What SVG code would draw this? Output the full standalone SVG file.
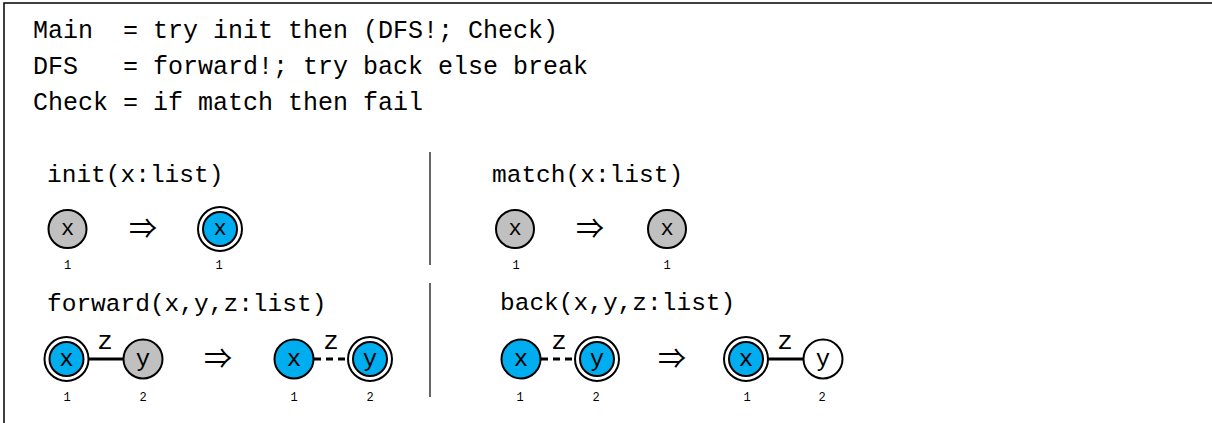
<svg xmlns="http://www.w3.org/2000/svg" width="1212" height="423" viewBox="0 0 1212 423">
<style>
.code{font-family:"Liberation Mono",monospace;font-size:25px;fill:#000}
.lbl{font-family:"Liberation Mono",monospace;font-size:24.5px;fill:#000}
.nt{font-family:"Liberation Mono",monospace;font-size:22px;fill:#000;text-anchor:middle}
.nt2{font-family:"Liberation Mono",monospace;font-size:24px;fill:#000;text-anchor:middle}
.num{font-family:"Liberation Mono",monospace;font-size:12px;fill:#000;text-anchor:middle}
.el{font-family:"Liberation Mono",monospace;font-size:26px;fill:#000;text-anchor:middle}
.arr{font-family:"Noto Sans CJK JP","DejaVu Sans",sans-serif;font-size:28px;fill:#000;text-anchor:middle}
.n{stroke:#000;stroke-width:2}
.gray{fill:#C0C0C0}
.blue{fill:#00AEEF}
.white{fill:#FFFFFF}
.e{stroke:#000;stroke-width:3;fill:none}
.dash{stroke-dasharray:7 5}
.frame{stroke:#000;stroke-width:1.5;fill:none}
.div{stroke:#000;stroke-width:1.2}
</style>
<rect width="1212" height="423" fill="#fff"/>
<g id="frame">
<path class="frame" d="M4,423 V3 H1212"/>
<line class="div" x1="430" y1="152" x2="430" y2="265"/>
<line class="div" x1="430" y1="283" x2="430" y2="397"/>
</g>
<g id="program">
<text class="code" x="33" y="38" xml:space="preserve">Main  = try init then (DFS!; Check)</text>
<text class="code" x="33" y="74" xml:space="preserve">DFS   = forward!; try back else break</text>
<text class="code" x="33" y="110" xml:space="preserve">Check = if match then fail</text>
</g>
<g id="rule-labels">
<text class="lbl" x="47" y="182">init(x:list)</text>
<text class="lbl" x="492" y="182">match(x:list)</text>
<text class="lbl" x="47" y="311">forward(x,y,z:list)</text>
<text class="lbl" x="500" y="310">back(x,y,z:list)</text>
</g>
<g id="arrows">
<text class="arr" x="143" y="239">⇒</text>
<text class="arr" x="590" y="239">⇒</text>
<text class="arr" x="218" y="369">⇒</text>
<text class="arr" x="672" y="369">⇒</text>
</g>
<g id="connectors">
<line id="e-fwd-l" class="e" x1="88" y1="359" x2="124" y2="359"/>
<text class="el" x="105" y="349">z</text>
<line id="e-fwd-r" class="e dash" x1="314" y1="359" x2="349" y2="359"/>
<text class="el" x="331" y="349">z</text>
<line id="e-back-l" class="e dash" x1="541" y1="359" x2="576" y2="359"/>
<text class="el" x="559" y="349">z</text>
<line id="e-back-r" class="e" x1="767" y1="359" x2="804" y2="359"/>
<text class="el" x="785" y="349">z</text>
</g>
<g id="init-l">
<circle class="n gray" cx="67.5" cy="229" r="19"/>
<text class="nt" x="67.5" y="235">x</text>
<text class="num" x="67.5" y="269">1</text>
</g>
<g id="init-r">
<circle class="n white" cx="220" cy="229" r="22"/>
<circle class="n blue" cx="220" cy="229" r="17"/>
<text class="nt" x="220" y="235">x</text>
<text class="num" x="219" y="269">1</text>
</g>
<g id="match-l">
<circle class="n gray" cx="515" cy="229" r="19"/>
<text class="nt" x="515" y="235">x</text>
<text class="num" x="516" y="269">1</text>
</g>
<g id="match-r">
<circle class="n gray" cx="667" cy="229" r="19"/>
<text class="nt" x="667" y="235">x</text>
<text class="num" x="667" y="269">1</text>
</g>
<g id="fwd-l-x">
<circle class="n white" cx="66.5" cy="359" r="22"/>
<circle class="n blue" cx="66.5" cy="359" r="17"/>
<text class="nt2" x="66.5" y="366">x</text>
<text class="num" x="67" y="401">1</text>
</g>
<g id="fwd-l-y">
<circle class="n gray" cx="143" cy="359" r="19.5"/>
<text class="nt2" x="143" y="366">y</text>
<text class="num" x="143" y="401">2</text>
</g>
<g id="fwd-r-x">
<circle class="n blue" cx="294" cy="359" r="19.5"/>
<text class="nt2" x="294" y="366">x</text>
<text class="num" x="294" y="401">1</text>
</g>
<g id="fwd-r-y">
<circle class="n white" cx="370" cy="359" r="22"/>
<circle class="n blue" cx="370" cy="359" r="17"/>
<text class="nt2" x="370" y="366">y</text>
<text class="num" x="370" y="401">2</text>
</g>
<g id="back-l-x">
<circle class="n blue" cx="521" cy="359" r="19.5"/>
<text class="nt2" x="521" y="366">x</text>
<text class="num" x="520" y="401">1</text>
</g>
<g id="back-l-y">
<circle class="n white" cx="597" cy="359" r="22"/>
<circle class="n blue" cx="597" cy="359" r="17"/>
<text class="nt2" x="597" y="366">y</text>
<text class="num" x="596" y="401">2</text>
</g>
<g id="back-r-x">
<circle class="n white" cx="746" cy="359" r="22"/>
<circle class="n blue" cx="746" cy="359" r="17"/>
<text class="nt2" x="746" y="366">x</text>
<text class="num" x="747" y="401">1</text>
</g>
<g id="back-r-y">
<circle class="n white" cx="823" cy="359" r="19.5"/>
<text class="nt2" x="823" y="366">y</text>
<text class="num" x="822" y="401">2</text>
</g>
</svg>
